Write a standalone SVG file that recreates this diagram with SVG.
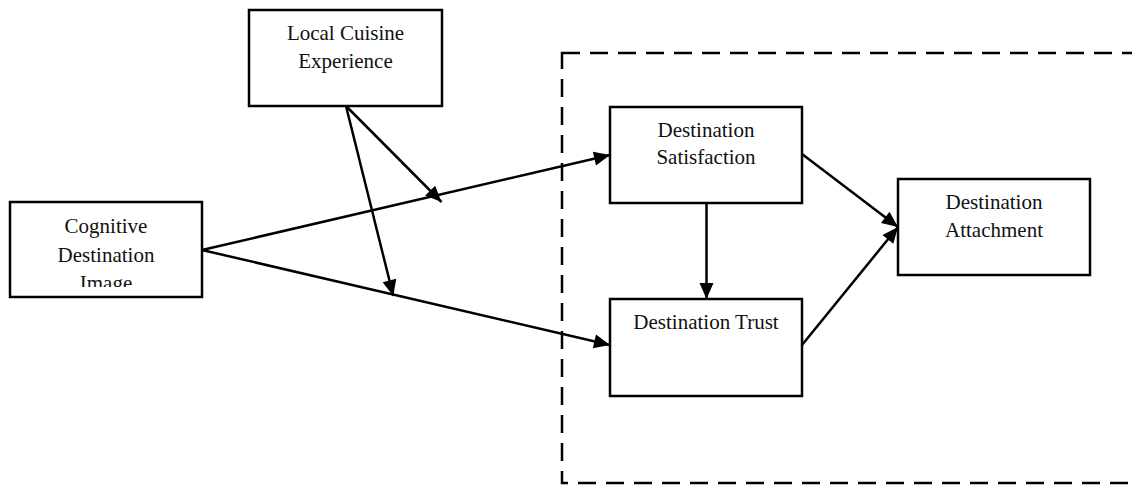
<svg xmlns="http://www.w3.org/2000/svg" width="1132" height="485" viewBox="0 0 1132 485">
<style>
.box{fill:#fff;stroke:#000;stroke-width:2.5}
.lbl{font-family:"Liberation Serif","Times New Roman",serif;font-size:21px;fill:#111;text-anchor:middle}
.conn{stroke:#000;stroke-width:2.5;fill:none;marker-end:url(#ah)}
.dash{fill:none;stroke:#000;stroke-width:2.5;stroke-dasharray:18 10}
</style>
<defs>
<marker id="ah" markerUnits="userSpaceOnUse" markerWidth="17" markerHeight="15" refX="16" refY="7" orient="auto" overflow="visible">
<path d="M0,0 L16,7 L0,14 Z" fill="#000"/>
</marker>
<clipPath id="cogclip"><rect x="10" y="202" width="192" height="85"/></clipPath>
</defs>
<rect class="dash" x="562" y="53" width="600" height="430"/>
<g id="n-local">
<rect class="box" x="249" y="10" width="193" height="96"/>
<text class="lbl" x="345.5" y="39.5">Local Cuisine</text>
<text class="lbl" x="345.5" y="67.5">Experience</text>
</g>
<g id="n-cognitive">
<rect class="box" x="10" y="202" width="192" height="95"/>
<g clip-path="url(#cogclip)">
<text class="lbl" x="106" y="233">Cognitive</text>
<text class="lbl" x="106" y="261.5">Destination</text>
<text class="lbl" x="106" y="290">Image</text>
</g>
</g>
<g id="n-satisfaction">
<rect class="box" x="610" y="107" width="192" height="96"/>
<text class="lbl" x="706" y="136.7">Destination</text>
<text class="lbl" x="706" y="164.3">Satisfaction</text>
</g>
<g id="n-trust">
<rect class="box" x="610" y="299" width="192" height="97"/>
<text class="lbl" x="706" y="329.3">Destination Trust</text>
</g>
<g id="n-attachment">
<rect class="box" x="898" y="179" width="192" height="96"/>
<text class="lbl" x="994" y="209">Destination</text>
<text class="lbl" x="994" y="236.7">Attachment</text>
</g>
<g id="connectors">
<line class="conn" x1="202" y1="250" x2="610" y2="155"/>
<line class="conn" x1="202" y1="250" x2="610" y2="345"/>
<line class="conn" x1="346" y1="106" x2="441.5" y2="202"/>
<line class="conn" x1="346" y1="106" x2="393.3" y2="296"/>
<line class="conn" x1="706.5" y1="203" x2="706.5" y2="299"/>
<line class="conn" x1="802" y1="154" x2="898" y2="227"/>
<line class="conn" x1="802" y1="345" x2="898" y2="227"/>
</g>
</svg>
